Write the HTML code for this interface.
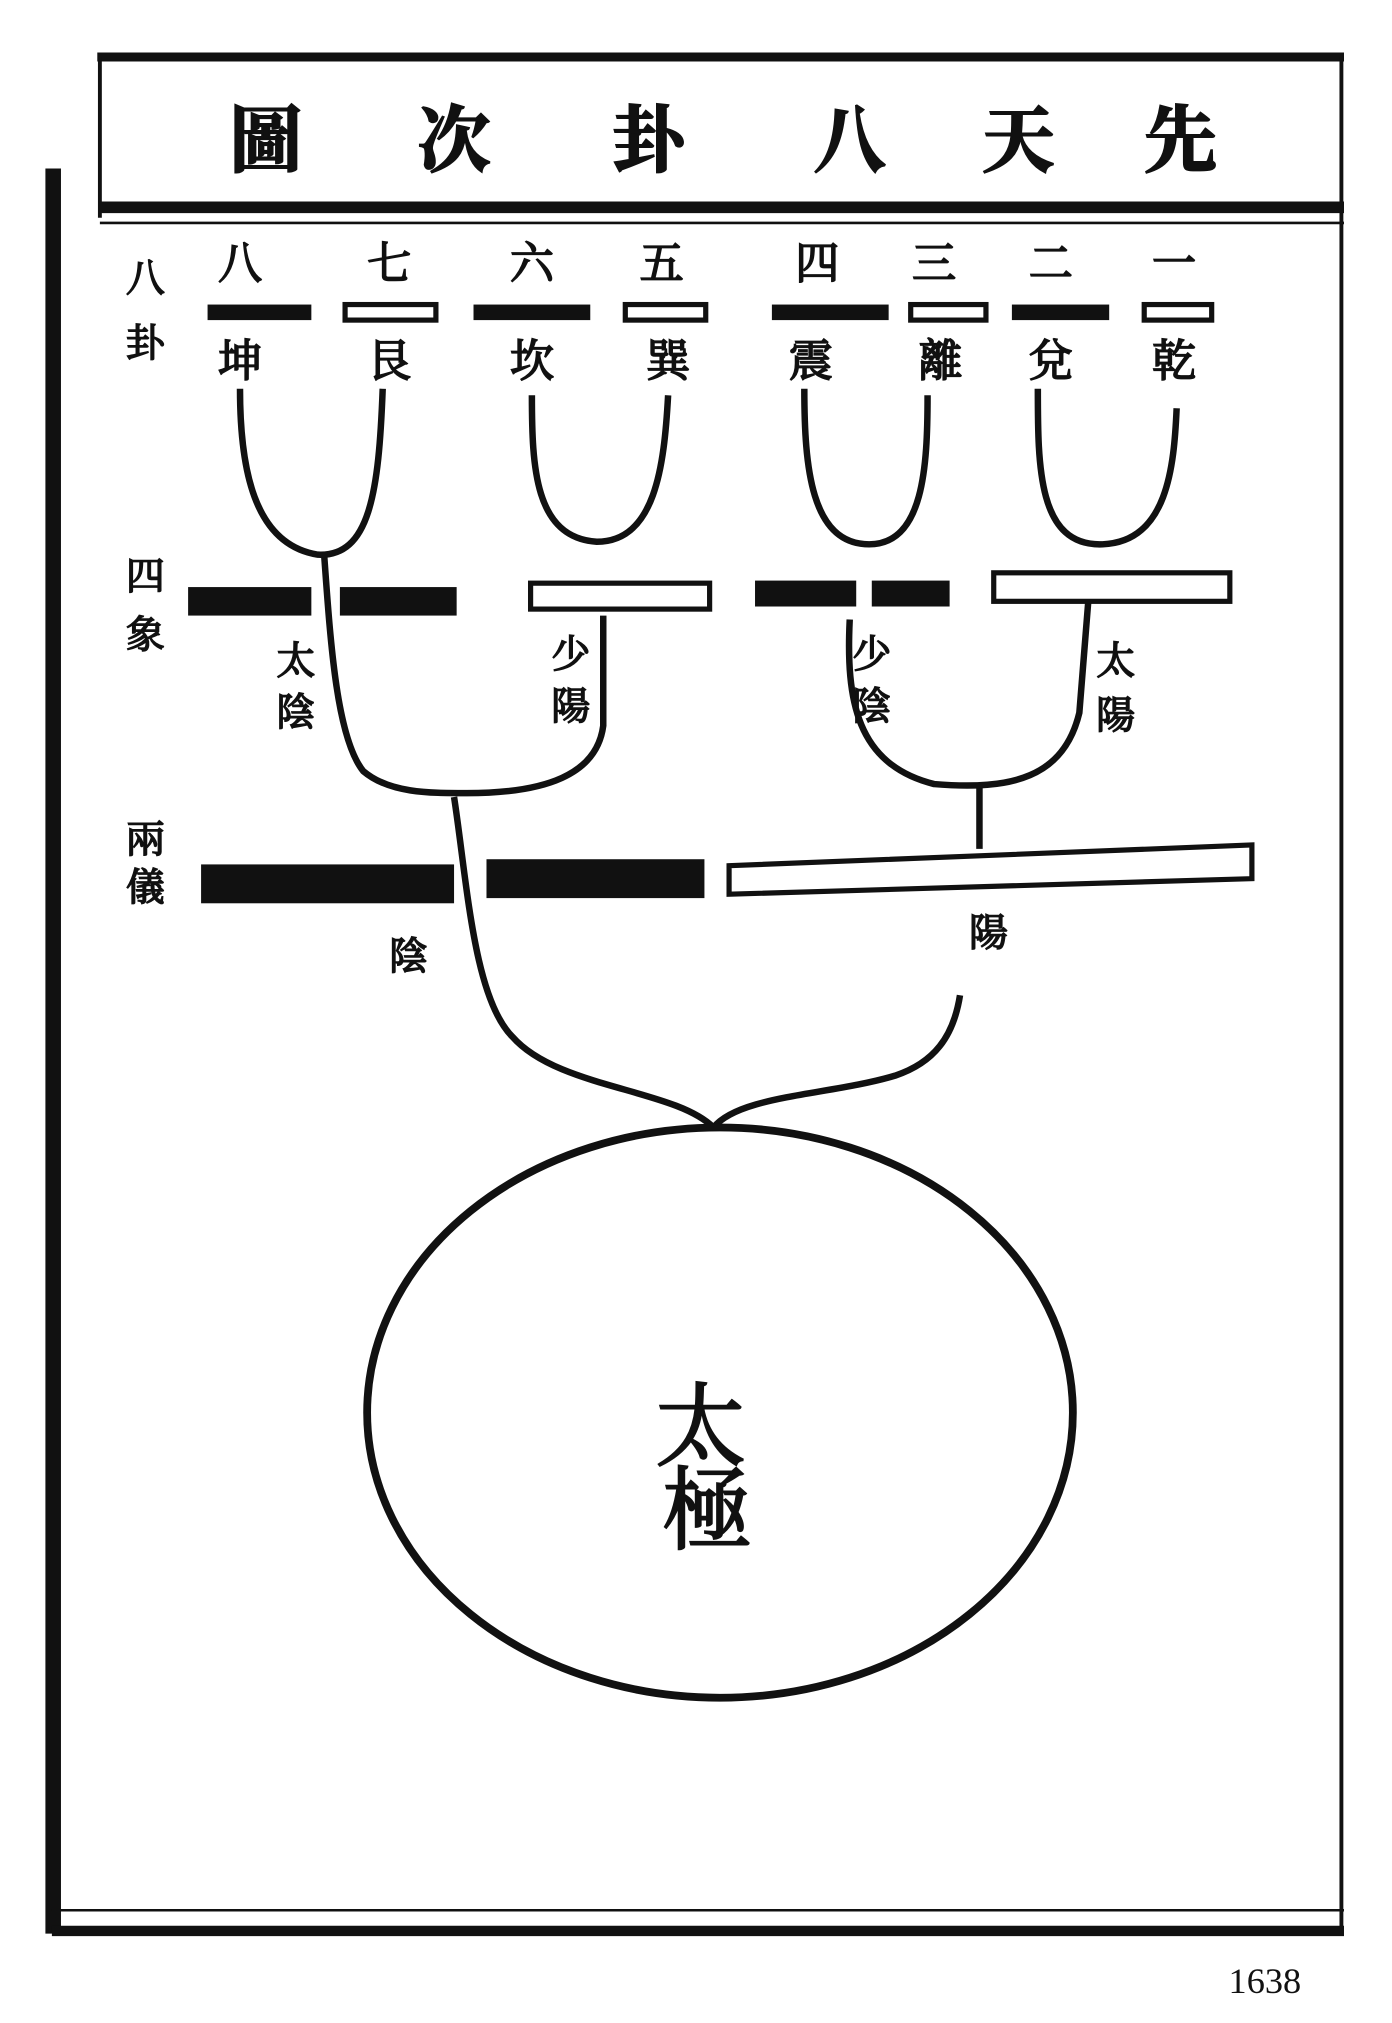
<!DOCTYPE html>
<html><head><meta charset="utf-8"><style>
html,body{margin:0;padding:0;background:#fff;}
svg{display:block;}
text{font-family:"Liberation Serif","Noto Serif CJK SC","Noto Sans CJK SC",serif;fill:#111;}
</style></head><body>
<svg width="1392" height="2023" viewBox="0 0 1073 1561" preserveAspectRatio="none" xmlns="http://www.w3.org/2000/svg">
<rect width="1073" height="1561" fill="#fff"/>
<g stroke="#111" fill="none">
<line x1="75" y1="44" x2="1036" y2="44" stroke-width="7"/>
<line x1="41" y1="130" x2="41" y2="1492" stroke-width="12"/>
<line x1="77" y1="44" x2="77" y2="168" stroke-width="3"/>
<line x1="1034" y1="44" x2="1034" y2="1490" stroke-width="3"/>
<line x1="77" y1="160" x2="1036" y2="160" stroke-width="9"/>
<line x1="77" y1="172" x2="1036" y2="172" stroke-width="2"/>
<line x1="40" y1="1474" x2="1036" y2="1474" stroke-width="2"/>
<line x1="40" y1="1490" x2="1036" y2="1490" stroke-width="8"/>
<g stroke-width="5">
<path d="M185 300 C185 360 195 420 245 428 C285 430 292 380 295 300"/>
<path d="M410 305 C410 360 412 415 460 418 C505 418 512 360 515 305"/>
<path d="M620 300 C620 360 625 420 670 420 C712 420 715 360 715 305"/>
<path d="M800 300 C800 360 800 422 850 420 C900 418 905 360 907 315"/>
<path d="M250 430 C255 500 260 570 280 595 C300 612 330 612 360 612 C420 612 460 598 465 560 L465 475"/>
<path d="M655 478 C652 540 660 590 720 605 C780 610 820 600 832 550 L840 450"/>
<path d="M755 608 L755 655"/>
<path d="M350 615 C360 680 365 770 395 800 C430 840 520 840 550 870"/>
<path d="M740 768 C735 800 720 820 690 830 C640 845 570 845 550 870"/>
</g>
<ellipse cx="555" cy="1090" rx="272" ry="220" stroke-width="6"/>
</g>
<g fill="#111">
<rect x="160" y="235" width="80" height="12"/>
<rect x="365" y="235" width="90" height="12"/>
<rect x="595" y="235" width="90" height="12"/>
<rect x="780" y="235" width="75" height="12"/>
<rect x="145" y="453" width="95" height="22"/>
<rect x="262" y="453" width="90" height="22"/>
<rect x="582" y="448" width="78" height="20"/>
<rect x="672" y="448" width="60" height="20"/>
<rect x="155" y="667" width="195" height="30"/>
<rect x="375" y="663" width="168" height="30"/>
</g>
<g fill="#fff" stroke="#111" stroke-width="4">
<rect x="266" y="235" width="70" height="12"/>
<rect x="482" y="235" width="62" height="12"/>
<rect x="702" y="235" width="58" height="12"/>
<rect x="882" y="235" width="52" height="12"/>
<rect x="409" y="450" width="138" height="20"/>
<rect x="766" y="442" width="182" height="22"/>
<path d="M562 668 L965 652 L965 678 L562 690 Z"/>
</g>
<g font-size="56" text-anchor="middle" font-weight="bold" stroke="#111" stroke-width="1.5">
<text x="910" y="128">先</text><text x="785" y="128">天</text><text x="655" y="128">八</text>
<text x="500" y="128">卦</text><text x="350" y="128">次</text><text x="205" y="128">圖</text>
</g>
<g font-size="34" text-anchor="middle" stroke="#111" stroke-width="1.3">
<text x="185" y="215">八</text><text x="300" y="215">七</text><text x="410" y="215">六</text><text x="510" y="215">五</text>
<text x="630" y="215">四</text><text x="720" y="215">三</text><text x="810" y="215">二</text><text x="905" y="215">一</text>
<text x="185" y="290">坤</text><text x="300" y="290">艮</text><text x="410" y="290">坎</text><text x="515" y="290">巽</text>
<text x="625" y="290">震</text><text x="725" y="290">離</text><text x="810" y="290">兌</text><text x="905" y="290">乾</text>
</g>
<g font-size="30" text-anchor="middle" stroke="#111" stroke-width="1.2">
<text x="112" y="225">八</text><text x="112" y="275">卦</text>
<text x="112" y="455">四</text><text x="112" y="500">象</text>
<text x="112" y="658">兩</text><text x="112" y="695">儀</text>
<text x="228" y="520">太</text><text x="228" y="560">陰</text>
<text x="440" y="515">少</text><text x="440" y="555">陽</text>
<text x="672" y="515">少</text><text x="672" y="555">陰</text>
<text x="860" y="520">太</text><text x="860" y="562">陽</text>
<text x="315" y="748">陰</text><text x="762" y="730">陽</text>
</g>
<g font-size="70" text-anchor="middle" stroke="#111" stroke-width="1.5">
<text x="540" y="1125">太</text><text x="545" y="1190">極</text>
</g>
<text x="975" y="1538" font-size="28" text-anchor="middle">1638</text>
</svg>
</body></html>
